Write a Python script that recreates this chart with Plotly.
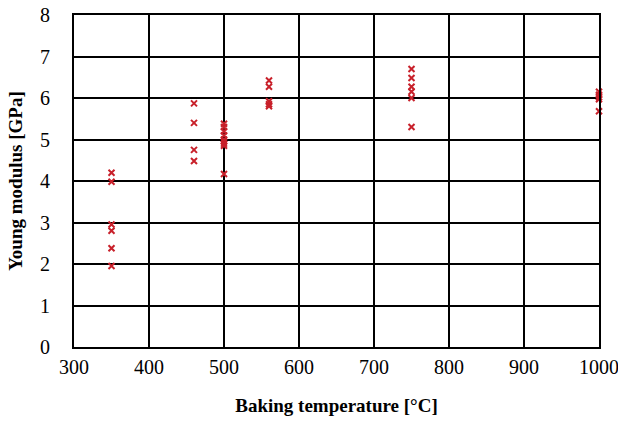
import plotly.graph_objects as go

# Baking temperature groups and measured Young's modulus values
temp_350 = [4.20, 3.98, 2.95, 2.80, 2.38, 1.95]
temp_460 = [5.87, 5.40, 4.75, 4.48]
temp_500 = [5.38, 5.30, 5.20, 5.10, 5.00, 4.95, 4.90, 4.85, 4.17]
temp_560 = [6.42, 6.27, 5.92, 5.85, 5.80]
temp_750 = [6.70, 6.48, 6.27, 6.15, 6.00, 5.30]
temp_1000 = [6.15, 6.08, 6.02, 5.97, 5.68]

groups = [(350, temp_350), (460, temp_460), (500, temp_500),
          (560, temp_560), (750, temp_750), (1000, temp_1000)]

xs, ys = [], []
for t, vals in groups:
    xs += [t] * len(vals)
    ys += vals

x_ticks = [300, 400, 500, 600, 700, 800, 900, 1000]
y_ticks = [0, 1, 2, 3, 4, 5, 6, 7, 8]

fig = go.Figure(go.Scatter(
    x=xs, y=ys, mode="markers",
    marker=dict(symbol="x-thin", size=6, color="#c8202a",
                line=dict(width=2, color="#c8202a")),
    showlegend=False,
    cliponaxis=False,
))

font_fam = "Liberation Serif, Times New Roman, serif"
fig.update_layout(
    width=618, height=425,
    margin=dict(l=74, r=19, t=15, b=78, autoexpand=False),
    paper_bgcolor="white", plot_bgcolor="white",
    font=dict(family=font_fam, size=20, color="black"),
)
fig.update_xaxes(
    range=[300, 1000], tickvals=x_ticks, showgrid=True, gridcolor="black",
    gridwidth=1.5, showline=True, linecolor="black", linewidth=2, mirror=True,
    zeroline=False, ticks="", tickfont=dict(size=20), ticklabelstandoff=1,
    ticklabeloverflow="allow", automargin=False,
    title=dict(text="<b>Baking temperature [°C]</b>", font=dict(size=19), standoff=22),
)
fig.update_yaxes(
    range=[0, 8], tickvals=y_ticks, showgrid=True, gridcolor="black",
    gridwidth=1.5, showline=True, linecolor="black", linewidth=2, mirror=True,
    zeroline=False, ticks="", tickfont=dict(size=20), ticklabelstandoff=18,
    ticklabeloverflow="allow", automargin=False,
    title=dict(text="<b>Young modulus [GPa]</b>", font=dict(size=19), standoff=12),
)

fig.write_html("out.html")
